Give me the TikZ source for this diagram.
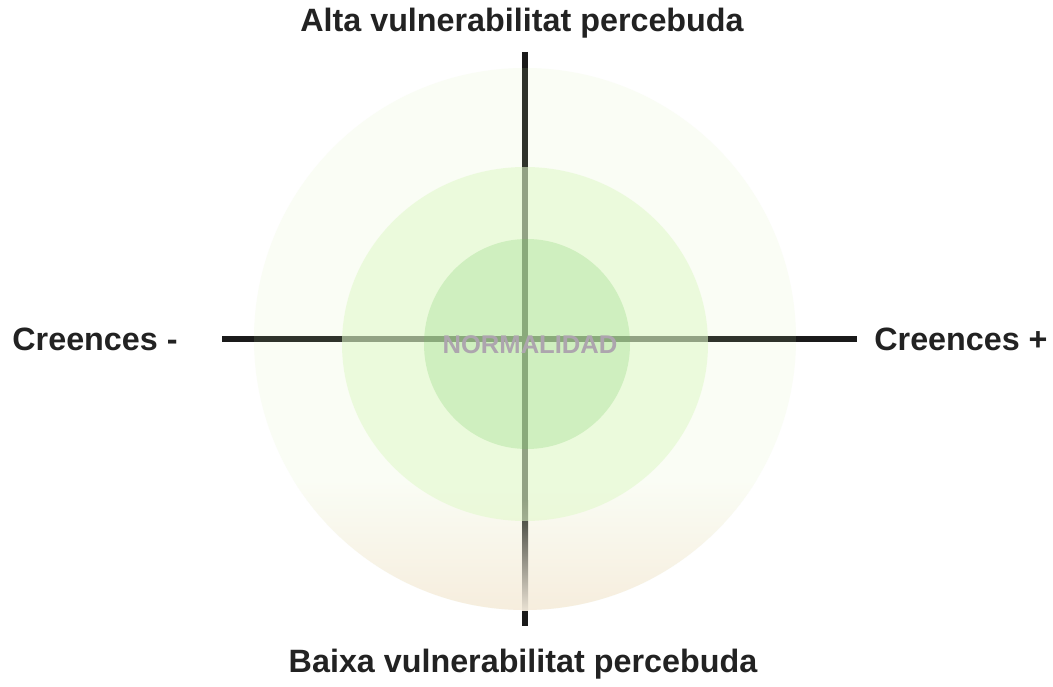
\documentclass[tikz,border=0pt]{standalone}
\usepackage{fontspec}
\setmainfont{Liberation Sans}
\definecolor{axiscol}{RGB}{26,26,26}
\definecolor{axisinouter}{RGB}{47,51,43}
\definecolor{axismid}{RGB}{128,127,112}
\definecolor{axisbeige}{RGB}{232,224,210}
\definecolor{outertop}{RGB}{250,253,245}
\definecolor{outerbeige}{RGB}{246,237,221}
\definecolor{midgreen}{RGB}{225,249,202}
\definecolor{innergreen}{RGB}{112,202,92}
\definecolor{normcol}{RGB}{173,165,174}
\definecolor{labelcol}{RGB}{34,34,34}
\tikzset{
  axisline/.style={line width=6pt, draw=axiscol},
  axisinner/.style={line width=6pt, draw=axisinouter},
  axislabel/.style={font=\fontsize{32.3}{38}\selectfont\bfseries, text=labelcol, inner sep=0pt},
  normlabel/.style={font=\fontsize{25.6}{30}\selectfont\bfseries, text=normcol, inner sep=0pt}
}
\begin{document}
\begin{tikzpicture}[x=1pt,y=-1pt]
\useasboundingbox[fill=white] (0,0) rectangle (1053,687);
% outer circle (opaque, with beige lower part)
\fill[outertop] (525,339) circle[radius=271];
\begin{scope}
  \clip (525,339) circle[radius=271];
  \shade[top color=outertop, bottom color=outerbeige] (250,480) rectangle (800,612);
\end{scope}
% axes: outer (pure dark) segments
\coordinate (vtop) at (525,52);
\coordinate (vtopin) at (525,68);
\coordinate (vgrad) at (525,500);
\coordinate (vbotin) at (525,610);
\coordinate (vbot) at (525,626);
\coordinate (hleft) at (222,339);
\coordinate (hleftin) at (254,339);
\coordinate (hrightin) at (796,339);
\coordinate (hright) at (857,339);
\draw[axisline] (vtop) -- (vtopin);
\draw[axisline] (vbotin) -- (vbot);
\draw[axisline] (hleft) -- (hleftin);
\draw[axisline] (hrightin) -- (hright);
% axes inside the outer circle
\draw[axisinner] (vtopin) -- (vgrad);
\draw[axisinner] (hleftin) -- (hrightin);
\shade[top color=axisinouter, middle color=axismid, bottom color=axisbeige] (522,500) rectangle (528,610);
% middle circle
\fill[midgreen, fill opacity=0.56] (525,344) ellipse[x radius=183, y radius=177];
% inner circle
\fill[innergreen, fill opacity=0.225] (527,344) ellipse[x radius=103, y radius=105];
% labels
\node[normlabel] (norm) at (530,345) {NORMALIDAD};
\node[axislabel] (top) at (522,23) {Alta vulnerabilitat percebuda};
\node[axislabel] (bottom) at (523,664) {Baixa vulnerabilitat percebuda};
\node[axislabel] (left) at (95,339) {Creences -};
\node[axislabel] (right) at (961,339) {Creences +};
\end{tikzpicture}
\end{document}
